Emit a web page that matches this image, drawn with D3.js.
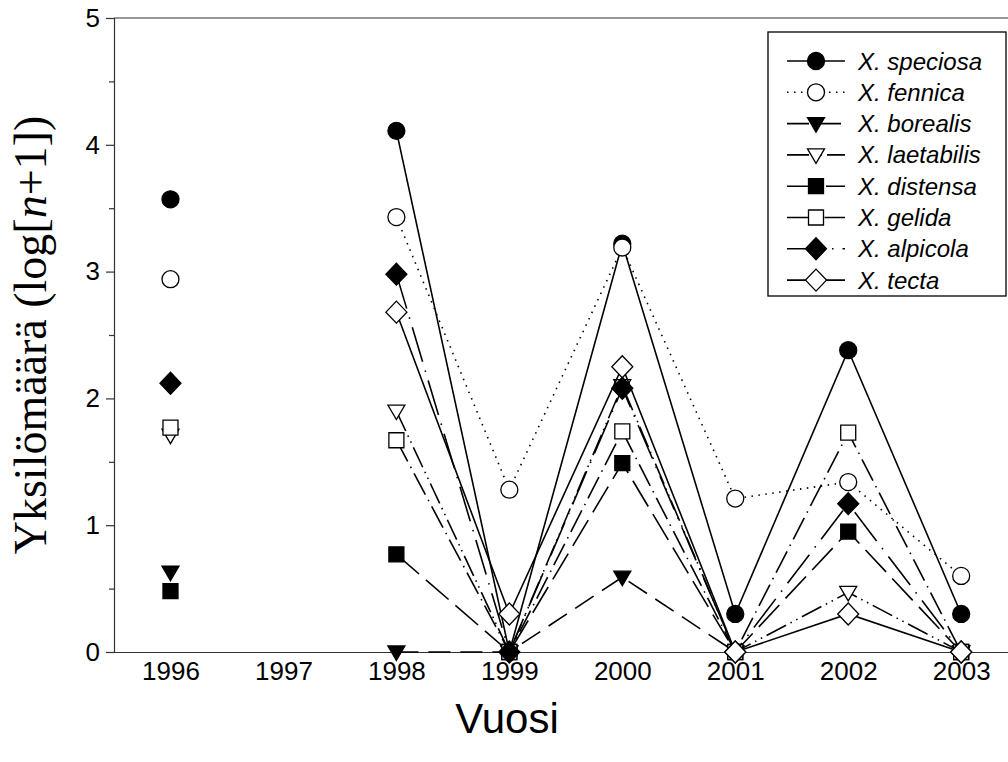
<!DOCTYPE html>
<html>
<head>
<meta charset="utf-8">
<script src="https://cdn.jsdelivr.net/npm/d3@7"></script>
<style>
  html, body { margin: 0; padding: 0; background: #fff; }
  svg { display: block; }
</style>
</head>
<body>
<svg id="chart" width="1008" height="762"></svg>
<script>
// ---- data ----
const years = [1996, 1997, 1998, 1999, 2000, 2001, 2002, 2003];
const yTicks = [0, 1, 2, 3, 4, 5];
const speciesNames = ["X. speciosa", "X. fennica", "X. borealis", "X. laetabilis",
                      "X. distensa", "X. gelida", "X. alpicola", "X. tecta"];
const speciosa   = [3.57, null, 4.11, 0,    3.22, 0.30, 2.38, 0.30];
const fennica    = [2.94, null, 3.43, 1.28, 3.19, 1.21, 1.34, 0.60];
const borealis   = [0.63, null, 0,    0,    0.59, 0,    null, 0];
const laetabilis = [1.71, null, 1.90, 0,    2.10, 0,    0.47, 0];
const distensa   = [0.48, null, 0.77, 0,    1.49, 0,    0.95, 0];
const gelida     = [1.77, null, 1.67, 0,    1.74, 0,    1.73, 0];
const alpicola   = [2.12, null, 2.98, 0,    2.08, 0,    1.17, 0];
const tecta      = [null, null, 2.68, 0.30, 2.25, 0,    0.30, 0];

const seriesValues = [speciosa, fennica, borealis, laetabilis, distensa, gelida, alpicola, tecta];
// style per series: marker type, filled, dash pattern
const markers = ["circle", "circle", "triangle", "triangle", "square", "square", "diamond", "diamond"];
const filled  = [true, false, true, false, true, false, true, false];
const dashes  = [null, "1.5,5.5", "22,10", "22,5,1.5,5,1.5,5", "30,9", "24,6,1.5,6", "36,9,1.5,9", null];

// ---- layout ----
const svg = d3.select("#chart");
const margin = { left: 114, top: 18, bottom: 652, right: 1008 };

const x = d3.scaleLinear().domain([1995.5, 2003.45]).range([margin.left, 1012]);
const y = d3.scaleLinear().domain([0, 5]).range([margin.bottom, margin.top]);

// top frame line (extends to edge)
svg.append("line").attr("x1", margin.left).attr("x2", 1008)
  .attr("y1", y(5)).attr("y2", y(5)).attr("stroke", "#333").attr("stroke-width", 1.2);

// x axis (no ticks)
const xAxis = d3.axisBottom(x).tickValues(years).tickFormat(d3.format("d")).tickSize(0).tickPadding(10);
const gx = svg.append("g").attr("transform", `translate(0,${y(0)})`).call(xAxis);
gx.select(".domain").attr("d", `M${margin.left},0.5H1008`).attr("stroke", "#333").attr("stroke-width", 1.2);
gx.selectAll("text").attr("font-family", "Liberation Sans, Arial, sans-serif")
  .attr("font-size", 26).attr("fill", "#000");

// y axis major
const yAxis = d3.axisLeft(y).tickValues(yTicks).tickFormat(d3.format("d")).tickSize(8).tickPadding(6);
const gy = svg.append("g").attr("transform", `translate(${margin.left},0)`).call(yAxis);
gy.select(".domain").attr("stroke", "#333").attr("stroke-width", 1.2);
gy.selectAll(".tick line").attr("stroke", "#333").attr("stroke-width", 1.2);
gy.selectAll("text").attr("font-family", "Liberation Sans, Arial, sans-serif")
  .attr("font-size", 26).attr("fill", "#000");
// minor ticks
const minor = d3.axisLeft(y).tickValues([0.5, 1.5, 2.5, 3.5, 4.5]).tickSize(5).tickFormat("");
const gm = svg.append("g").attr("transform", `translate(${margin.left},0)`).call(minor);
gm.select(".domain").remove();
gm.selectAll(".tick line").attr("stroke", "#333").attr("stroke-width", 1.2);

// axis titles
svg.append("text").attr("x", 507).attr("y", 733).attr("text-anchor", "middle")
  .attr("font-family", "Liberation Sans, Arial, sans-serif").attr("font-size", 42).text("Vuosi");

const yl = svg.append("text").attr("transform", `translate(46,${(y(0) + y(5)) / 2}) rotate(-90)`)
  .attr("text-anchor", "middle").attr("font-family", "Liberation Serif, Times New Roman, serif")
  .attr("font-size", 46);
yl.append("tspan").text("Yksilömäärä (log[");
yl.append("tspan").attr("font-style", "italic").text("n");
yl.append("tspan").text("+1])");

// ---- marker shapes ----
function markerPath(type) {
  if (type === "circle") return d3.symbol().type(d3.symbolCircle).size(Math.PI * 8.5 * 8.5)();
  if (type === "square") return "M-7.5,-7.5H7.5V7.5H-7.5Z";
  if (type === "triangle") return "M-8.5,-6H8.5L0,8.5Z";
  if (type === "diamond") return "M0,-11L10.5,0L0,11L-10.5,0Z";
}

const line = d3.line().defined(d => d.v !== null).x(d => x(d.year)).y(d => y(d.v));

seriesValues.forEach((vals, i) => {
  const pts = years.map((yr, j) => ({ year: yr, v: vals[j] }));
  const g = svg.append("g");
  g.append("path").datum(pts).attr("d", line).attr("fill", "none")
    .attr("stroke", "#000").attr("stroke-width", 1.6)
    .attr("stroke-dasharray", dashes[i]);
  g.selectAll("path.m").data(pts.filter(d => d.v !== null)).join("path").attr("class", "m")
    .attr("d", markerPath(markers[i]))
    .attr("transform", d => `translate(${x(d.year)},${y(d.v)})`)
    .attr("fill", filled[i] ? "#000" : "#fff")
    .attr("stroke", "#000").attr("stroke-width", 1.3);
});

// ---- legend ----
const lg = svg.append("g");
lg.append("rect").attr("x", 768).attr("y", 32).attr("width", 238).attr("height", 264)
  .attr("fill", "#fff").attr("stroke", "#000").attr("stroke-width", 1.3);
speciesNames.forEach((name, i) => {
  const cy = 61 + i * 31.3;
  lg.append("line").attr("x1", 787).attr("x2", 845).attr("y1", cy).attr("y2", cy)
    .attr("stroke", "#000").attr("stroke-width", 1.6).attr("stroke-dasharray", dashes[i]);
  lg.append("path").attr("d", markerPath(markers[i]))
    .attr("transform", `translate(816,${cy})`)
    .attr("fill", filled[i] ? "#000" : "#fff").attr("stroke", "#000").attr("stroke-width", 1.3);
  lg.append("text").attr("x", 858).attr("y", cy + 8.5)
    .attr("font-family", "Liberation Sans, Arial, sans-serif").attr("font-style", "italic")
    .attr("font-size", 24).text(name);
});
</script>
</body>
</html>
